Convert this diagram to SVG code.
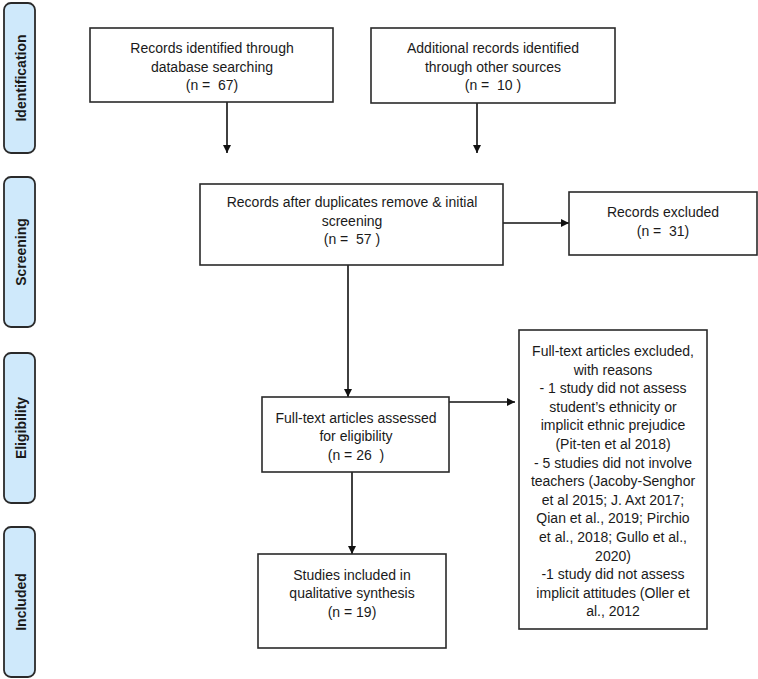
<svg xmlns="http://www.w3.org/2000/svg" width="758" height="679" viewBox="0 0 758 679">
<defs>
<style>
text{font-family:"Liberation Sans",Arial,sans-serif;font-size:14px;fill:#1a1a1a;white-space:pre;text-anchor:middle}
.lab{font-weight:bold;font-size:14px}
.side{fill:#cfe9fb;stroke:#2a2a2a;stroke-width:1.8}
.box{fill:#fff;stroke:#2a2a2a;stroke-width:1.6}
.con{stroke:#111;stroke-width:1.6;fill:none;marker-end:url(#ah)}
</style>
<marker id="ah" viewBox="0 0 10 10" refX="10" refY="5" markerWidth="8" markerHeight="8" markerUnits="userSpaceOnUse" orient="auto">
<path d="M0,0 L10,5 L0,10 z" fill="#111"/>
</marker>
</defs>
<rect width="758" height="679" fill="#fff"/>

<g id="stage-identification">
<rect class="side" x="4" y="3" width="31" height="150" rx="7"/>
<text class="lab" transform="translate(26,78) rotate(-90)">Identification</text>
</g>
<g id="stage-screening">
<rect class="side" x="4" y="177" width="31" height="150" rx="7"/>
<text class="lab" transform="translate(26,252) rotate(-90)">Screening</text>
</g>
<g id="stage-eligibility">
<rect class="side" x="4" y="353" width="31" height="150" rx="7"/>
<text class="lab" transform="translate(26,428) rotate(-90)">Eligibility</text>
</g>
<g id="stage-included">
<rect class="side" x="4" y="527" width="31" height="150" rx="7"/>
<text class="lab" transform="translate(26,602) rotate(-90)">Included</text>
</g>

<g id="connectors">
<line class="con" x1="227" y1="102" x2="227" y2="153"/>
<line class="con" x1="477" y1="103" x2="477" y2="153"/>
<line class="con" x1="498" y1="223" x2="569" y2="223"/>
<line class="con" x1="348" y1="265" x2="348" y2="397"/>
<line class="con" x1="447" y1="402" x2="515" y2="402"/>
<line class="con" x1="352" y1="472" x2="352" y2="554"/>
</g>

<g id="db-records">
<rect class="box" x="90" y="28" width="243" height="74"/>
<text x="212" y="53">Records identified through</text>
<text x="212" y="72">database searching</text>
<text x="212" y="90">(n =  67)</text>
</g>
<g id="other-records">
<rect class="box" x="371" y="28" width="244" height="75"/>
<text x="493" y="53">Additional records identified</text>
<text x="493" y="72">through other sources</text>
<text x="493" y="90">(n =  10 )</text>
</g>
<g id="screened">
<rect class="box" x="200" y="184" width="303" height="81"/>
<text x="352" y="207">Records after duplicates remove &amp; initial</text>
<text x="352" y="226">screening</text>
<text x="352" y="244">(n =  57 )</text>
</g>
<g id="excluded">
<rect class="box" x="569" y="192" width="188" height="63"/>
<text x="663" y="217">Records excluded</text>
<text x="663" y="236">(n =  31)</text>
</g>
<g id="eligibility">
<rect class="box" x="262" y="397" width="187" height="75"/>
<text x="356" y="423">Full-text articles assessed</text>
<text x="356" y="441">for eligibility</text>
<text x="356" y="460">(n = 26  )</text>
</g>
<g id="reasons">
<rect class="box" x="519" y="330" width="188" height="299"/>
<text x="613" y="356">Full-text articles excluded,</text>
<text x="613" y="374.6">with reasons</text>
<text x="613" y="393.2">- 1 study did not assess</text>
<text x="613" y="411.8">student’s ethnicity or</text>
<text x="613" y="430.4">implicit ethnic prejudice</text>
<text x="613" y="449">(Pit-ten et al 2018)</text>
<text x="613" y="467.6">- 5 studies did not involve</text>
<text x="613" y="486.2">teachers (Jacoby-Senghor</text>
<text x="613" y="504.8">et al 2015; J. Axt 2017;</text>
<text x="613" y="523.4">Qian et al., 2019; Pirchio</text>
<text x="613" y="542">et al., 2018; Gullo et al.,</text>
<text x="613" y="560.6">2020)</text>
<text x="613" y="579.2">-1 study did not assess</text>
<text x="613" y="597.8">implicit attitudes (Oller et</text>
<text x="613" y="616.4">al., 2012</text>
</g>
<g id="included">
<rect class="box" x="258" y="554" width="188" height="94"/>
<text x="352" y="580">Studies included in</text>
<text x="352" y="598">qualitative synthesis</text>
<text x="352" y="617">(n = 19)</text>
</g>
</svg>
